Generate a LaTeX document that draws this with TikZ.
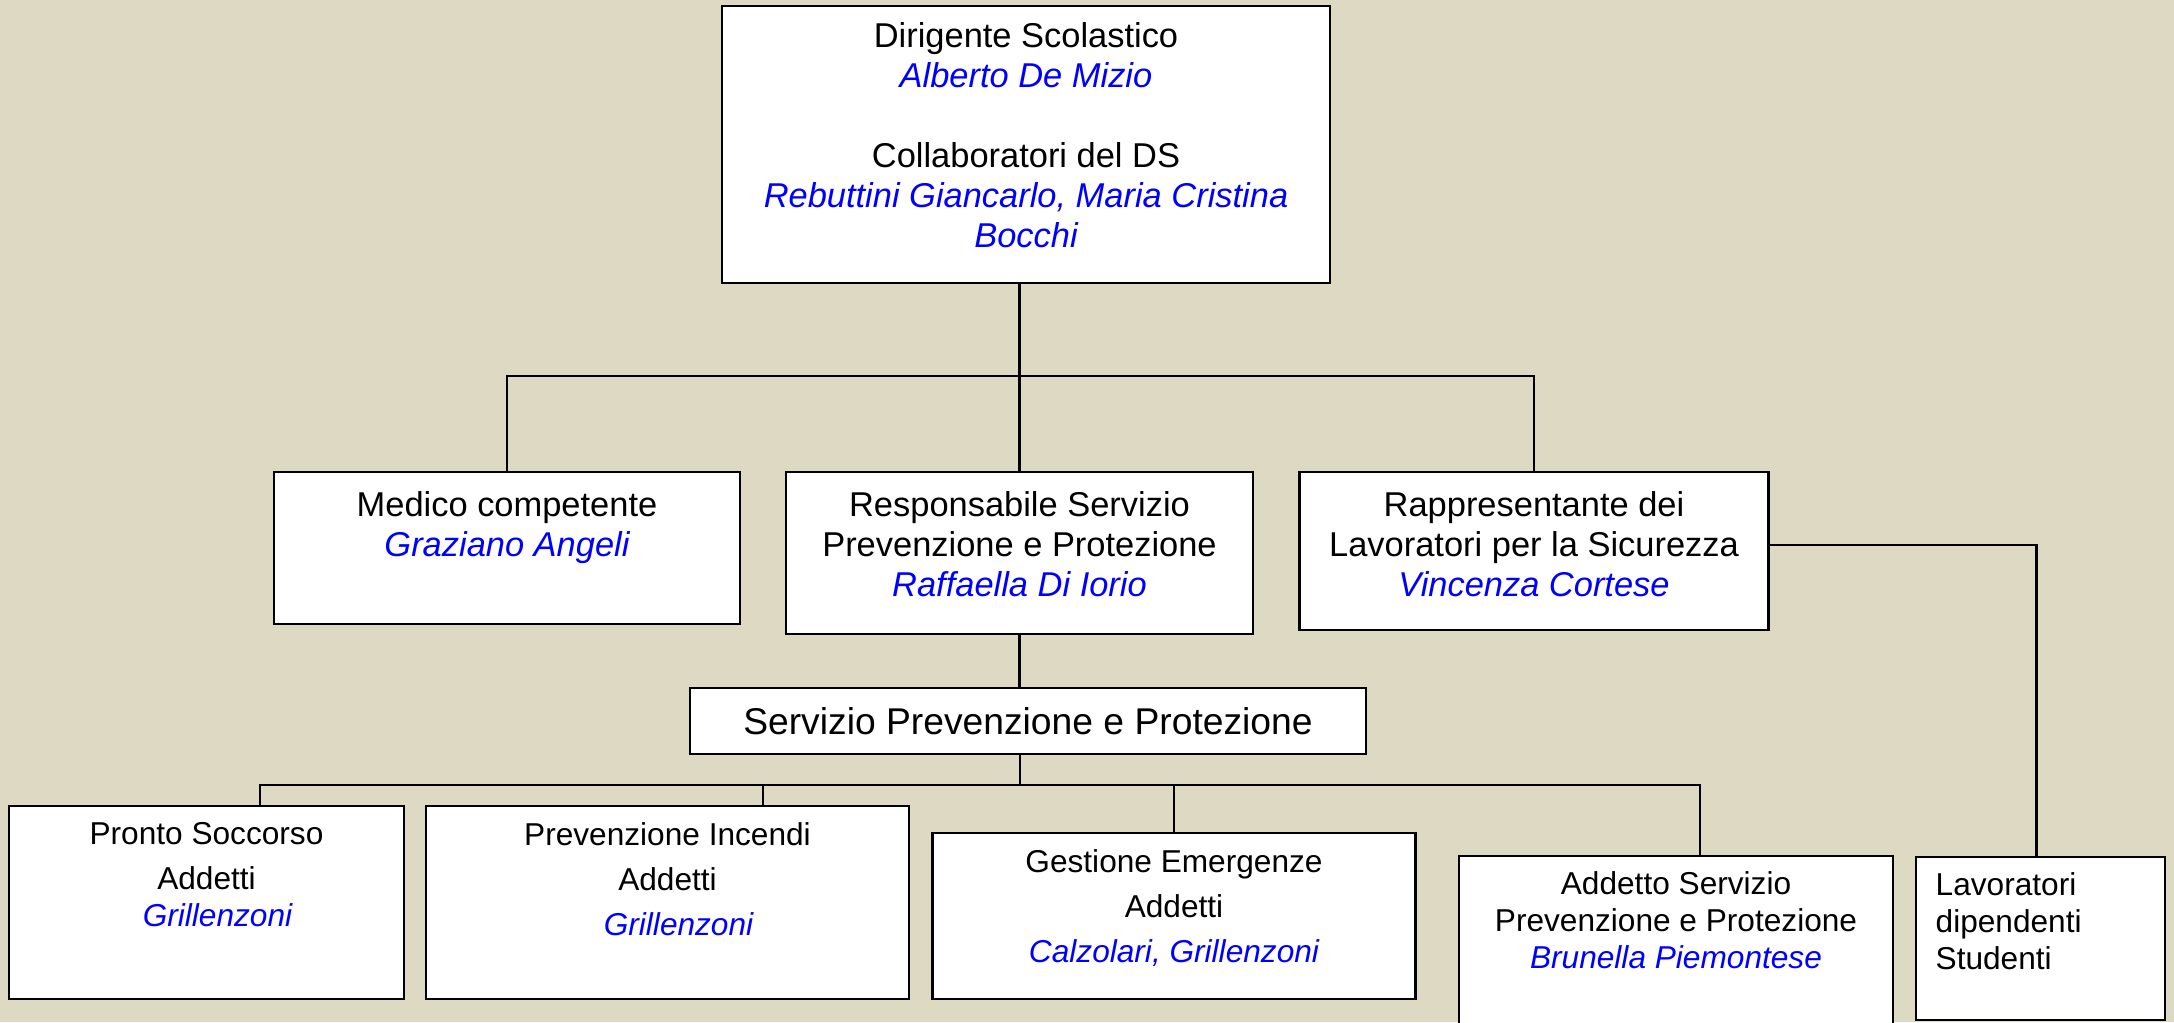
\documentclass[tikz,border=0pt]{standalone}
\usepackage{fontspec}
\setmainfont{Liberation Sans}
\usepackage{xcolor}
\usepackage{tikz}
\usetikzlibrary{positioning}
\definecolor{sfondo}{RGB}{221,217,195}
\definecolor{nomeblu}{RGB}{0,0,255}
\newcommand{\persona}[1]{\textcolor{nomeblu}{\itshape #1}}
\tikzset{
    box/.style={rectangle, draw=black, fill=white, line width=0.6pt, inner sep=0pt},
    testo/.style={anchor=north, align=center, inner sep=0pt, font=\fontsize{9.8}{11.4}\selectfont},
    piccolo/.style={anchor=north, align=center, inner sep=0pt, font=\fontsize{9}{10.5}\selectfont},
    linea/.style={draw=black, line width=0.7pt}
}

\begin{document}
\begin{tikzpicture}[y=-1cm]
    % Background
    \useasboundingbox (0,0) rectangle (21.74,10.22);
    \fill[sfondo] (0,0) rectangle (21.74,10.22);

    % Direction
    \node[box, minimum width=6.08cm, minimum height=2.77cm,
        label={[testo, yshift=-0.17cm]north:{Dirigente Scolastico\\ \persona{Alberto De Mizio}\\[11.4pt]
        Collaboratori del DS\\ \persona{Rebuttini Giancarlo, Maria Cristina}\\ \persona{Bocchi}}}] (ds) at (10.26,1.445) {};

    % Second level
    \node[box, minimum width=4.66cm, minimum height=1.52cm,
        label={[testo, yshift=-0.20cm]north:{Medico competente\\ \persona{Graziano Angeli}}}] (mc) at (5.07,5.48) {};
    \node[box, minimum width=4.67cm, minimum height=1.62cm,
        label={[testo, yshift=-0.20cm]north:{Responsabile Servizio\\ Prevenzione e Protezione\\ \persona{Raffaella Di Iorio}}}] (rspp) at (10.195,5.53) {};
    \node[box, minimum width=4.69cm, minimum height=1.58cm,
        label={[testo, yshift=-0.20cm]north:{Rappresentante dei\\ Lavoratori per la Sicurezza\\ \persona{Vincenza Cortese}}}] (rls) at (15.34,5.51) {};

    % Service
    \node[box, minimum width=6.76cm, minimum height=0.66cm, font=\fontsize{10.6}{12.5}\selectfont] (spp) at (10.28,7.21) {Servizio Prevenzione e Protezione};

    % Third level
    \node[box, minimum width=3.95cm, minimum height=1.93cm,
        label={[piccolo, yshift=-0.17cm]north:{Pronto Soccorso\\[2.3pt] Addetti\\ \hspace*{0.22cm}\persona{Grillenzoni}}}] (ps) at (2.065,9.025) {};
    \node[box, minimum width=4.83cm, minimum height=1.93cm,
        label={[piccolo, yshift=-0.17cm]north:{Prevenzione Incendi\\[2.3pt] Addetti\\[2.2pt] \hspace*{0.22cm}\persona{Grillenzoni}}}] (pi) at (6.675,9.025) {};
    \node[box, minimum width=4.83cm, minimum height=1.66cm,
        label={[piccolo, yshift=-0.17cm]north:{Gestione Emergenze\\[2.3pt] Addetti\\[2.2pt] \persona{Calzolari, Grillenzoni}}}] (ge) at (11.74,9.16) {};
    \node[box, minimum width=4.34cm, minimum height=2.0cm,
        label={[piccolo, yshift=-0.16cm]north:{Addetto Servizio\\ Prevenzione e Protezione\\ \persona{Brunella Piemontese}}}] (asp) at (16.76,9.56) {};
    \node[box, minimum width=2.49cm, minimum height=1.63cm,
        label={[piccolo, anchor=north west, align=left, xshift=0.2cm, yshift=-0.16cm]north west:{Lavoratori\\ dipendenti\\ Studenti}}] (lav) at (20.405,9.385) {};

    % Connectors
    \coordinate (bus) at (10.19,3.76);
    \coordinate (bus2) at (10.20,7.85);
    \draw[linea] (ds.south -| rspp.north) -- (rspp.north);
    \draw[linea] (mc.north) |- (bus) -| (rls.north);
    \draw[linea] (rspp.south) -- (rspp.south |- spp.north);
    \draw[linea] (spp.south -| bus2) -- (bus2);
    \draw[linea] ([xshift=0.535cm]ps.north) |- (bus2) -| ([xshift=0.24cm]asp.north);
    \draw[linea] ([xshift=0.955cm]pi.north) -- ([xshift=0.955cm]pi.north |- bus2);
    \draw[linea] (ge.north) -- (ge.north |- bus2);
    \draw[linea] ([yshift=0.06cm]rls.east) -| ([xshift=-0.04cm]lav.north);
\end{tikzpicture}
\end{document}
